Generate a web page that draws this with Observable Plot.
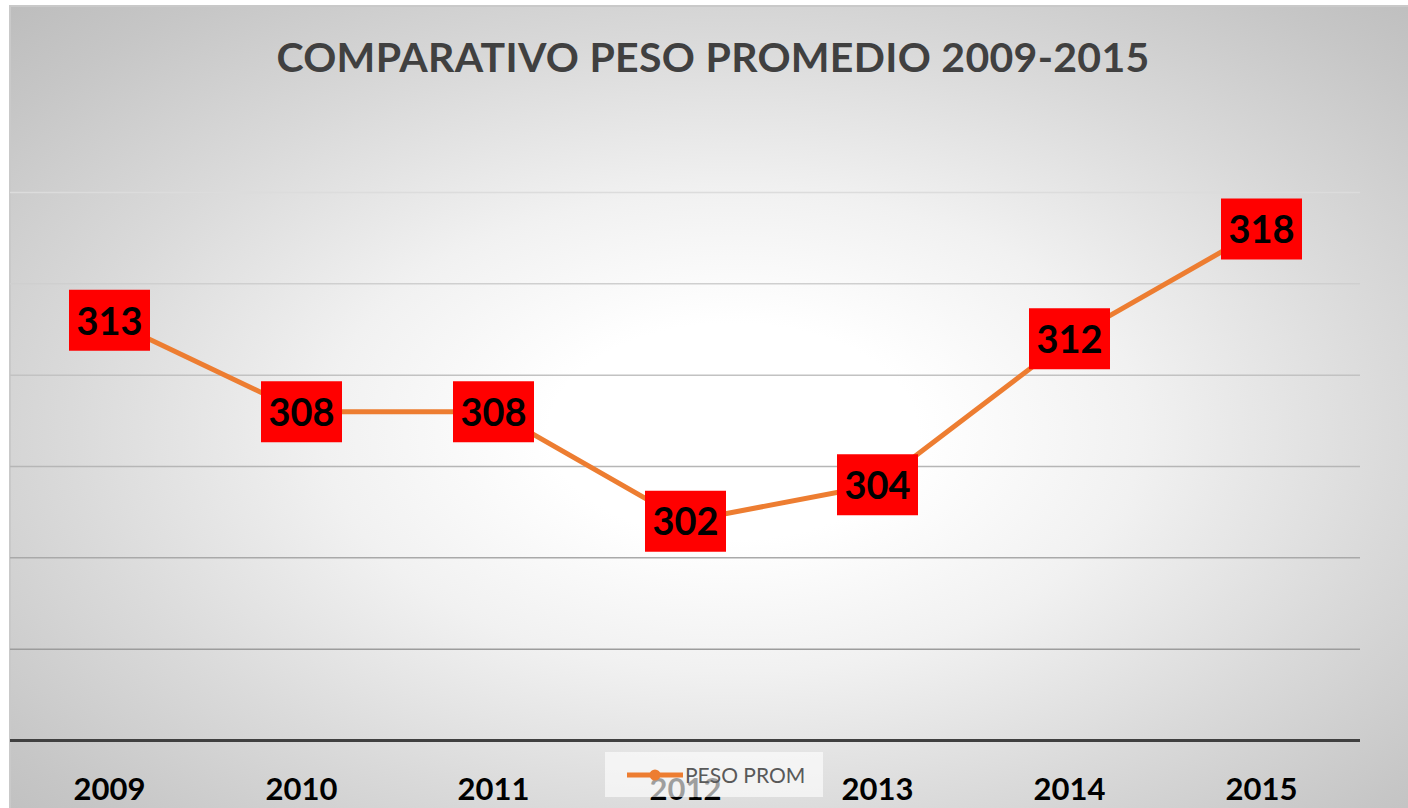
<!DOCTYPE html>
<html>
<head>
<meta charset="utf-8">
<script src="https://cdn.jsdelivr.net/npm/d3@7"></script>
<script src="https://cdn.jsdelivr.net/npm/@observablehq/plot@0.6"></script>
<style>
  html, body { margin: 0; padding: 0; background: #ffffff; }
  #wrap { position: relative; width: 1408px; height: 808px; overflow: hidden; font-family: Lato, "Open Sans", sans-serif; }
  #bg { position: absolute; left: 9px; top: 5px; width: 1420px; height: 820px;
        border: 2px solid #c9c9c9; box-sizing: border-box;
        background: radial-gradient(ellipse farthest-corner at 51% 52%, #ffffff 0%, #ffffff 18%, #f1f1f1 40%, #dadada 65%, #c6c6c6 88%, #bdbdbd 100%); }
  #title { position: relative; height: 110px; text-align: center; font-weight: 700; font-size: 41px;
           color: #404040; line-height: 1; padding-top: 36px; padding-left: 18px; box-sizing: border-box; letter-spacing: 0.3px; }
  #chart { position: relative; height: 698px; }
  #chart svg { display: block; background: transparent; }
  #legend { position: absolute; left: 605px; top: 752px; width: 218px; height: 45px;
            background: rgba(255,255,255,0.62); display: flex; align-items: center; }
  #legend svg { margin-left: 22px; }
  #legend span { font-size: 21px; color: #595959; margin-left: 2px; line-height: 1; }
</style>
</head>
<body>
<div id="wrap">
  <div id="bg"></div>
  <div id="title">COMPARATIVO PESO PROMEDIO 2009-2015</div>
  <div id="chart"></div>
  <div id="legend"></div>
</div>
<script>
const years = ["2009", "2010", "2011", "2012", "2013", "2014", "2015"];
const pesoProm = [313, 308, 308, 302, 304, 312, 318];
const gridValues = [295, 300, 305, 310, 315, 320];
const seriesName = "PESO PROM";

const data = years.map((y, i) => ({year: y, value: pesoProm[i]}));
const lineColor = "#ED7D31";
const boxSymbol = { draw(context) { context.rect(-40.5, -30.5, 81, 61); } };
const gridColor = d3.interpolateRgb("#dcdcdc", "#9c9c9c");

const chart = Plot.plot({
  width: 1408,
  height: 698,
  marginTop: 82,
  marginBottom: 68,
  marginLeft: 10,
  marginRight: 48,
  style: { background: "transparent", fontFamily: "Lato, 'Open Sans', sans-serif" },
  x: { type: "point", domain: years, padding: 0.5, label: null },
  y: { domain: [290, 320], axis: null },
  marks: [
    Plot.ruleY(gridValues, { stroke: d => gridColor((320 - d) / 25), strokeWidth: 1.5 }),
    Plot.ruleY([290], { stroke: "#404040", strokeWidth: 3 }),
    Plot.axisX({ tickSize: 0, tickPadding: 37, fontSize: 31, fontWeight: 700, fill: "#000", label: null }),
    Plot.line(data, { x: "year", y: "value", stroke: lineColor, strokeWidth: 5, strokeLinejoin: "round" }),
    Plot.dot(data, { x: "year", y: "value", symbol: boxSymbol, fill: "#ff0000", stroke: "none", r: 10 }),
    Plot.text(data, { x: "year", y: "value", text: d => String(d.value), fontSize: 38, fontWeight: 700, fill: "#000", dy: 2 })
  ]
});
document.getElementById("chart").appendChild(chart);

const legend = document.getElementById("legend");
legend.innerHTML = `<svg width="56" height="14"><line x1="0" y1="7" x2="56" y2="7" stroke="${lineColor}" stroke-width="5" stroke-linecap="round"/><circle cx="28" cy="7" r="5.5" fill="${lineColor}"/></svg><span>${seriesName}</span>`;
</script>
</body>
</html>
